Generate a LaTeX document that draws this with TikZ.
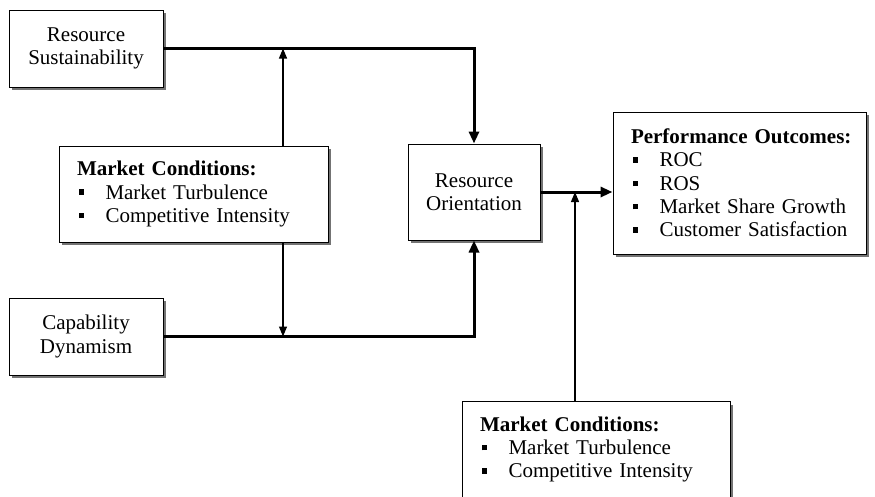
\documentclass[tikz,border=0pt]{standalone}
\usepackage{fontspec}
\setmainfont{Liberation Serif}
\usetikzlibrary{arrows.meta,shadows,calc}
\newcommand\bsq{\rule[0.2em]{5pt}{5.5pt}}
\newcommand\bl[1]{\mbox{\hspace*{1.5pt}\makebox[27pt][l]{\bsq}#1}}
\newcommand\ttl[1]{\mbox{\textbf{#1}}}
\begin{document}
\begin{tikzpicture}[x=1pt,y=-1pt,
  box/.style={draw, line width=1pt, fill=white,
    drop shadow={shadow xshift=3pt, shadow yshift=-3pt, fill=black!55, opacity=1},
    font=\fontsize{21}{23.3}\selectfont, inner sep=0pt},
  listbox/.style={box, inner xsep=18pt, align=left},
  thickarrow/.style={line width=3pt, -{Triangle[length=12pt,width=10pt]}},
  thinarrow/.style={line width=1.2pt, -{Triangle[length=10pt,width=8pt]}}]
\clip (0,0) rectangle (875,496);
\fill[white] (0,0) rectangle (875,496);

\node[box, minimum width=154pt, minimum height=77pt, align=center] (rs) at (86,48.5) {Resource\\Sustainability};
\node[box, minimum width=154pt, minimum height=77pt, align=center] (cd) at (86,336.5) {Capability\\Dynamism};
\node[box, minimum width=132pt, minimum height=96pt, align=center] (ro) at (474,192) {Resource\\Orientation};

\node[listbox, minimum height=96pt, text width=233pt] (mcl) at (193.5,194)
  {\ttl{Market Conditions:}\\\bl{Market Turbulence}\\\bl{Competitive Intensity}};

\node[listbox, minimum height=142pt, text width=217pt] (po) at (739.5,183)
  {\ttl{Performance Outcomes:}\\\bl{ROC}\\\bl{ROS}\\\bl{Market Share Growth}\\\bl{Customer Satisfaction}};

\node[listbox, minimum height=96pt, text width=232pt] (mcb) at (596,449.5)
  {\ttl{Market Conditions:}\\\bl{Market Turbulence}\\\bl{Competitive Intensity}};

\draw[thickarrow] (rs.east) -| (ro.north);
\draw[thickarrow] (cd.east) -| (ro.south);
\draw[thickarrow] (ro.east) -- (ro.east -| po.west);
\draw[thinarrow] ([xshift=89.5pt]mcl.north) -- ([xshift=89.5pt]mcl.north |- rs.east);
\draw[thinarrow] ([xshift=89.5pt]mcl.south) -- ([xshift=89.5pt]mcl.south |- cd.east);
\draw[thinarrow] ([xshift=-21pt]mcb.north) -- ([xshift=-21pt]mcb.north |- ro.east);
\end{tikzpicture}
\end{document}
